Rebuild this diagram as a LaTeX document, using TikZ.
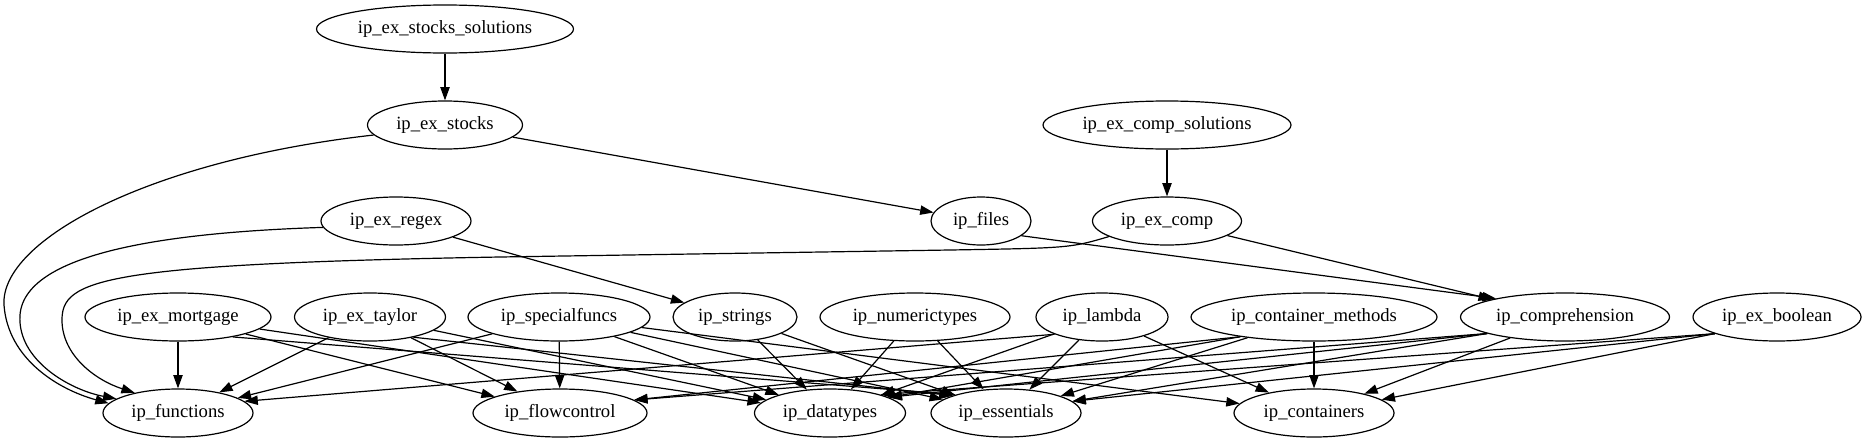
\documentclass[tikz,border=0pt]{standalone}
\usepackage{fontspec}
\setmainfont{Liberation Serif}
\usetikzlibrary{shapes.geometric,arrows.meta}
\tikzstyle{module}=[ellipse,draw,minimum height=36pt,inner sep=0pt,font=\fontsize{14pt}{17pt}\selectfont]

\begin{document}
\begin{tikzpicture}[x=0.75pt,y=-0.75pt,line width=0.9pt,->,>={Triangle[length=10pt,width=7pt]}]
  \useasboundingbox (0,0) rectangle (1869,443);
  \foreach \name/\x/\y/\w/\text in {solutions/445/29/257/ip\_ex\_stocks\_solutions,
                                    exstocks/445/125/155/ip\_ex\_stocks,
                                    compsol/1167/125/248/ip\_ex\_comp\_solutions,
                                    regex/396/221/150/ip\_ex\_regex,
                                    files/981/221/100/ip\_files,
                                    excomp/1167/221/149/ip\_ex\_comp,
                                    mortgage/178/317/186/ip\_ex\_mortgage,
                                    taylor/370/317/151/ip\_ex\_taylor,
                                    specialfuncs/559/317/182/ip\_specialfuncs,
                                    strings/735/317/124/ip\_strings,
                                    numerictypes/915/317/190/ip\_numerictypes,
                                    lambda/1102/317/132/ip\_lambda,
                                    cmethods/1314/317/246/ip\_container\_methods,
                                    comprehension/1565/317/209/ip\_comprehension,
                                    boolean/1777/317/168/ip\_ex\_boolean,
                                    functions/178/413/150/ip\_functions,
                                    flowcontrol/560/413/174/ip\_flowcontrol,
                                    datatypes/830/413/151/ip\_datatypes,
                                    essentials/1006/413/150/ip\_essentials,
                                    containers/1314/413/160/ip\_containers}
    \node[module,minimum width=\w*0.75pt] (\name) at (\x,\y) {\text};
  \foreach \from/\to in {solutions/exstocks, compsol/excomp, exstocks/files,
                         excomp/comprehension, regex/strings,
                         mortgage/functions, mortgage/flowcontrol, mortgage/datatypes,
                         taylor/functions, taylor/flowcontrol, taylor/datatypes,
                         specialfuncs/functions, specialfuncs/flowcontrol, specialfuncs/datatypes,
                         specialfuncs/essentials, specialfuncs/containers,
                         strings/datatypes, strings/essentials,
                         numerictypes/datatypes, numerictypes/essentials,
                         lambda/datatypes, lambda/essentials, lambda/containers,
                         cmethods/essentials, cmethods/containers, comprehension/containers,
                         files.340/comprehension.165, mortgage.340/essentials.160,
                         taylor.335/essentials.162, lambda.200/functions.10,
                         cmethods.195/flowcontrol.10, cmethods.195/datatypes.15,
                         comprehension.192/flowcontrol.10, comprehension.192/datatypes.15,
                         comprehension.192/essentials.10, boolean.195/datatypes.20,
                         boolean.195/essentials.10, boolean.195/containers}
    \draw (\from) -- (\to);
  \draw (exstocks.188) .. controls (150,160) and (0,240) .. (4,305)
    .. controls (8,360) and (60,390) .. (functions.172);
  \draw (regex.185) .. controls (180,232) and (25,250) .. (20,315)
    .. controls (17,360) and (70,390) .. (functions.167);
  \draw (excomp.195) .. controls (1070,248) .. (950,250) -- (500,257)
    .. controls (100,264) and (62,280) .. (62,320) .. controls (62,355) and (95,380) .. (functions.155);
\end{tikzpicture}
\end{document}
